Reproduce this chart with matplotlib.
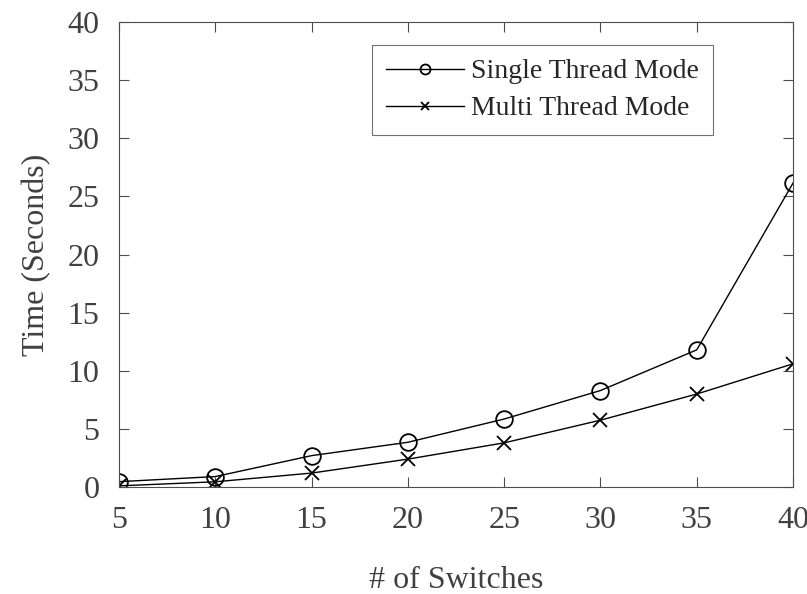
import matplotlib
matplotlib.use("Agg")
import matplotlib.pyplot as plt

plt.rcParams['font.family'] = ['Liberation Serif', 'DejaVu Serif']

# number of switches vs. time
switches = [5, 10, 15, 20, 25, 30, 35, 40]
single_thread = [0.46, 0.9, 2.7, 3.85, 5.85, 8.3, 11.8, 26.15]
multi_thread = [0.1, 0.45, 1.2, 2.4, 3.8, 5.75, 8.0, 10.6]

text_col = '#404040'
axis_col = '#4d4d4d'

fig = plt.figure(figsize=(8.07, 5.94), dpi=100)
ax = fig.add_axes([0.1475, 0.1801, 0.8352, 0.7828])

ax.plot(switches, single_thread, color='black', lw=1.0, marker='o',
        ms=12, mfc='none', mew=1.3, label='Single Thread Mode')
ax.plot(switches, multi_thread, color='black', lw=1.0, marker='x',
        ms=10, mew=1.3, label='Multi Thread Mode')

ax.set_xlim(5, 40)
ax.set_ylim(0, 40)
ax.set_xticks(range(5, 41, 5))
ax.set_yticks(range(0, 41, 5))
ax.tick_params(direction='in', top=True, right=True, labelsize=23,
               length=7, width=0.8, colors=axis_col, labelcolor=text_col,
               pad=14)
for s in ax.spines.values():
    s.set_color(axis_col)
    s.set_linewidth(0.8)

ax.set_xlabel('# of Switches', fontsize=23, color=text_col, labelpad=22)
ax.set_ylabel('Time (Seconds)', fontsize=23, color=text_col, labelpad=12)

leg = ax.legend(loc='upper right', bbox_to_anchor=(0.881, 0.9505),
                fontsize=20, frameon=True, fancybox=False,
                edgecolor=axis_col, markerscale=0.6, handlelength=2.8,
                handletextpad=0.25, borderpad=0.5, labelspacing=0.42,
                borderaxespad=0)
leg.get_frame().set_linewidth(0.8)
for t in leg.get_texts():
    t.set_color('#262626')

fig.savefig('out.png', dpi=100)
